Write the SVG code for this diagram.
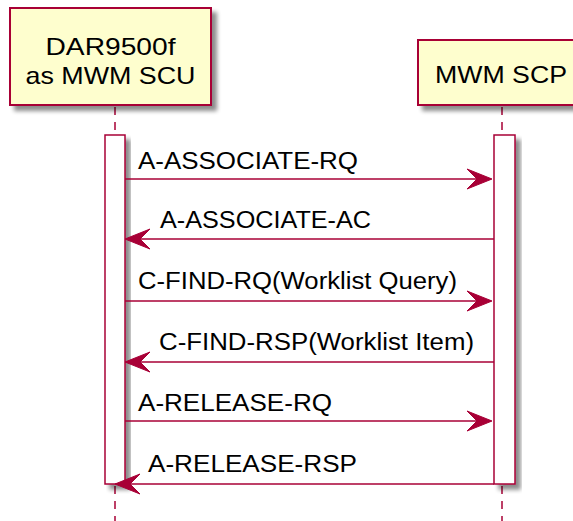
<svg xmlns="http://www.w3.org/2000/svg" width="573" height="521" viewBox="0 0 573 521">
<defs>
<filter id="sh" x="-20%" y="-20%" width="150%" height="150%">
<feGaussianBlur in="SourceAlpha" stdDeviation="2"/>
<feOffset dx="5" dy="5" result="b"/>
<feComponentTransfer><feFuncA type="linear" slope="0.45"/></feComponentTransfer>
<feMerge><feMergeNode/><feMergeNode in="SourceGraphic"/></feMerge>
</filter>
</defs>
<style>
.part{fill:#FEFECE;stroke:#A80036;stroke-width:2;}
.act{fill:#FFFFFF;stroke:#A80036;stroke-width:1.5;}
.life{stroke:#A80036;stroke-width:1.5;stroke-dasharray:8,7;fill:none;}
.msg{stroke:#A80036;stroke-width:1.5;fill:none;}
.head{fill:#A80036;stroke:#A80036;stroke-width:1;}
text{font-family:"Liberation Sans",Arial,sans-serif;fill:#000000;}
.ptxt{font-size:24px;text-anchor:middle;}
.mtxt{font-size:23px;}
</style>
<rect width="573" height="521" fill="#FFFFFF"/>
<g id="lifelines">
<line class="life" x1="115" y1="107" x2="115" y2="135"/>
<line class="life" x1="115" y1="486" x2="115" y2="521"/>
<line class="life" x1="502" y1="107" x2="502" y2="135"/>
<line class="life" x1="502" y1="486" x2="502" y2="521"/>
</g>
<g id="scu">
<rect class="part" x="10" y="8" width="201" height="97" filter="url(#sh)"/>
<text class="ptxt" x="110.5" y="55" textLength="130" lengthAdjust="spacingAndGlyphs">DAR9500f</text>
<text class="ptxt" x="110.5" y="84" textLength="170" lengthAdjust="spacingAndGlyphs">as MWM SCU</text>
</g>
<g id="scp">
<rect class="part" x="418" y="40" width="168" height="65" filter="url(#sh)"/>
<text class="ptxt" x="501" y="83" textLength="132" lengthAdjust="spacingAndGlyphs">MWM SCP</text>
</g>
<g id="scu-activation">
<rect class="act" x="105" y="135" width="20" height="349" filter="url(#sh)"/>
</g>
<g id="scp-activation">
<rect class="act" x="494" y="135" width="21" height="349" filter="url(#sh)"/>
</g>
<g id="connectors">
<line class="msg" x1="125" y1="179" x2="490" y2="179"/>
<polygon class="head" points="467,169 492,179 467,189 477,179"/>
<text class="mtxt" x="138" y="169" textLength="220" lengthAdjust="spacingAndGlyphs">A-ASSOCIATE-RQ</text>

<line class="msg" x1="494" y1="239" x2="128" y2="239"/>
<polygon class="head" points="150,229 125,239 150,249 140,239"/>
<text class="mtxt" x="160" y="228" textLength="211" lengthAdjust="spacingAndGlyphs">A-ASSOCIATE-AC</text>

<line class="msg" x1="125" y1="301" x2="490" y2="301"/>
<polygon class="head" points="467,291 492,301 467,311 477,301"/>
<text class="mtxt" x="138" y="289" textLength="319" lengthAdjust="spacingAndGlyphs">C-FIND-RQ(Worklist Query)</text>

<line class="msg" x1="494" y1="362" x2="128" y2="362"/>
<polygon class="head" points="150,352 125,362 150,372 140,362"/>
<text class="mtxt" x="159" y="350" textLength="315" lengthAdjust="spacingAndGlyphs">C-FIND-RSP(Worklist Item)</text>

<line class="msg" x1="125" y1="421" x2="490" y2="421"/>
<polygon class="head" points="467,411 492,421 467,431 477,421"/>
<text class="mtxt" x="138" y="411" textLength="194" lengthAdjust="spacingAndGlyphs">A-RELEASE-RQ</text>

<line class="msg" x1="494" y1="484" x2="118" y2="484"/>
<polygon class="head" points="140,474 115,484 140,494 130,484"/>
<text class="mtxt" x="148" y="472" textLength="209" lengthAdjust="spacingAndGlyphs">A-RELEASE-RSP</text>
</g>
</svg>
